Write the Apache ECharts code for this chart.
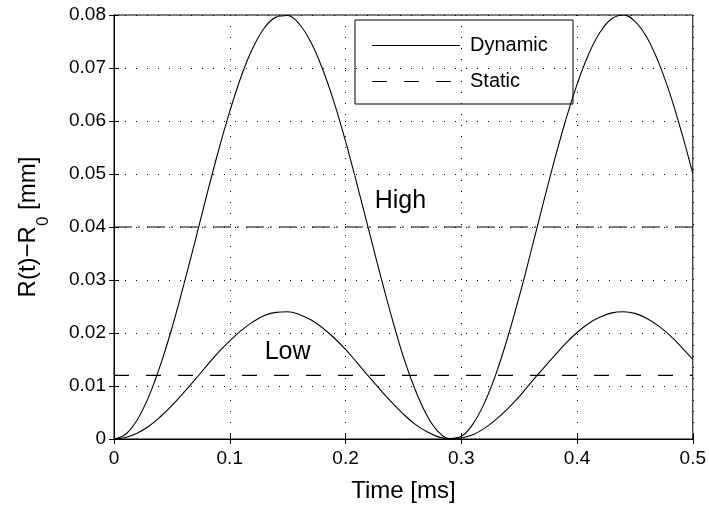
<!DOCTYPE html>
<html>
<head>
<meta charset="utf-8">
<script src="https://cdn.jsdelivr.net/npm/echarts@6/dist/echarts.min.js"></script>
<style>
  html, body { margin: 0; padding: 0; background: #fff; }
  #chart { width: 709px; height: 508px; }
</style>
</head>
<body>
<div id="chart"></div>
<script>
// time samples [ms]
const time = [0, 0.01, 0.02, 0.03, 0.04, 0.05, 0.06, 0.07, 0.08, 0.09,
  0.10, 0.11, 0.12, 0.13, 0.14, 0.15, 0.16, 0.17, 0.18, 0.19,
  0.20, 0.21, 0.22, 0.23, 0.24, 0.25, 0.26, 0.27, 0.28, 0.29,
  0.30, 0.31, 0.32, 0.33, 0.34, 0.35, 0.36, 0.37, 0.38, 0.39,
  0.40, 0.41, 0.42, 0.43, 0.44, 0.45, 0.46, 0.47, 0.48, 0.49, 0.50];

// dynamic response, high load [mm]
const dynHigh = [0, 0.0009, 0.0036, 0.0080, 0.0139, 0.0209, 0.0289, 0.0373, 0.0459, 0.0542,
  0.0618, 0.0685, 0.0738, 0.0776, 0.0796, 0.0799, 0.0783, 0.0749, 0.0699, 0.0636,
  0.0562, 0.0480, 0.0395, 0.0310, 0.0229, 0.0155, 0.0094, 0.0046, 0.0014, 0.0001,
  0.0005, 0.0028, 0.0068, 0.0123, 0.0191, 0.0268, 0.0352, 0.0438, 0.0522, 0.0600,
  0.0669, 0.0726, 0.0768, 0.0793, 0.0800, 0.0788, 0.0759, 0.0713, 0.0653, 0.0581, 0.0501];

// dynamic response, low load [mm]
const dynLow = [0, 0.0003, 0.0011, 0.0024, 0.0042, 0.0063, 0.0087, 0.0112, 0.0138, 0.0163,
  0.0185, 0.0205, 0.0221, 0.0233, 0.0239, 0.0240, 0.0235, 0.0225, 0.0210, 0.0191,
  0.0169, 0.0144, 0.0118, 0.0093, 0.0069, 0.0047, 0.0028, 0.0014, 0.0004, 0.0000,
  0.0002, 0.0008, 0.0020, 0.0037, 0.0057, 0.0080, 0.0106, 0.0131, 0.0156, 0.0180,
  0.0201, 0.0218, 0.0230, 0.0238, 0.0240, 0.0237, 0.0228, 0.0214, 0.0196, 0.0174, 0.0150];

// static deflections [mm]
const staticHigh = 0.04;
const staticLow = 0.012;

const xTickLabels = ['0', '0.1', '0.2', '0.3', '0.4', '0.5'];
const yTickLabels = ['0', '0.01', '0.02', '0.03', '0.04', '0.05', '0.06', '0.07', '0.08'];

// text annotations: [t, value, text]
const notes = [[0.2478, 0.0447, 'High'], [0.1504, 0.0163, 'Low']];

const legendNames = ['Dynamic', 'Static'];

const FONT = '"Liberation Sans", Arial, sans-serif';
const DASH = [15, 17];
const DASHDOT = [18, 6, 2, 7];

function pairs(ys) {
  return time.map((t, i) => [t, ys[i]]);
}

const myChart = echarts.init(document.getElementById('chart'), null, { renderer: 'canvas' });

const tickLbl = { color: '#000', fontFamily: FONT, fontSize: 19 };
const dotted = { show: true, lineStyle: { color: '#000', width: 1, type: [1, 10] } };
const blackTick = { inside: true, length: 5, lineStyle: { color: '#000' } };

// legend box (MATLAB style), drawn as graphic
const lg = { x: 355, y: 20, w: 218, h: 84 };
const legendGraphic = {
  type: 'group', z: 100,
  children: [
    { type: 'rect', shape: { x: lg.x, y: lg.y, width: lg.w, height: lg.h },
      style: { fill: '#fff', stroke: '#000', lineWidth: 1 } },
    { type: 'line', shape: { x1: 372, y1: 45.5, x2: 460, y2: 45.5 },
      style: { stroke: '#000', lineWidth: 1 } },
    { type: 'line', shape: { x1: 372, y1: 81.5, x2: 460, y2: 81.5 },
      style: { stroke: '#000', lineWidth: 1, lineDash: DASH } },
    { type: 'text', x: 470, y: 45, style: { text: legendNames[0], fill: '#000',
      font: '20px ' + FONT, verticalAlign: 'middle' } },
    { type: 'text', x: 470, y: 81, style: { text: legendNames[1], fill: '#000',
      font: '20px ' + FONT, verticalAlign: 'middle' } }
  ]
};

const option = {
  backgroundColor: '#fff',
  animation: false,
  textStyle: { fontFamily: FONT },
  grid: { left: 114, right: 15, top: 15, bottom: 68, show: true, borderColor: '#000', borderWidth: 1 },
  xAxis: [{
    type: 'value', min: 0, max: 0.5, interval: 0.1,
    name: 'Time [ms]', nameLocation: 'middle', nameGap: 40,
    nameTextStyle: { color: '#000', fontSize: 24, fontFamily: FONT },
    axisLine: { show: true, lineStyle: { color: '#000' } },
    axisTick: blackTick,
    axisLabel: Object.assign({ margin: 10, formatter: v => xTickLabels[Math.round(v * 10)] }, tickLbl),
    splitLine: dotted
  }, {
    type: 'value', position: 'top', min: 0, max: 0.5, interval: 0.1,
    axisLine: { show: true, lineStyle: { color: '#000' } },
    axisTick: blackTick,
    axisLabel: { show: false }, splitLine: { show: false }
  }],
  yAxis: [{
    type: 'value', min: 0, max: 0.08, interval: 0.01,
    name: 'R(t)−R{sub|0} [mm]', nameLocation: 'middle', nameGap: 74, nameRotate: 90,
    nameTextStyle: {
      color: '#000', fontSize: 24, fontFamily: FONT,
      rich: { sub: { fontSize: 17, fontFamily: FONT, color: '#000', verticalAlign: 'bottom', padding: [0, 0, -12, 0] } }
    },
    axisLine: { show: true, lineStyle: { color: '#000' } },
    axisTick: blackTick,
    axisLabel: Object.assign({ margin: 8, formatter: v => yTickLabels[Math.round(v * 100)] }, tickLbl),
    splitLine: dotted
  }, {
    type: 'value', position: 'right', min: 0, max: 0.08, interval: 0.01,
    axisLine: { show: true, lineStyle: { color: '#000' } },
    axisTick: blackTick,
    axisLabel: { show: false }, splitLine: { show: false }
  }],
  graphic: [legendGraphic],
  series: [
    {
      name: 'Dynamic', type: 'line', data: pairs(dynHigh), smooth: 0.4,
      showSymbol: false, lineStyle: { color: '#000', width: 1.1 }
    },
    {
      name: 'Dynamic', type: 'line', data: pairs(dynLow), smooth: 0.4,
      showSymbol: false, lineStyle: { color: '#000', width: 1.1 }
    },
    {
      name: 'Static', type: 'line', data: [[0, staticLow], [0.5, staticLow]],
      showSymbol: false, lineStyle: { color: '#000', width: 1.1, type: DASH }
    },
    {
      name: 'Static', type: 'line', data: [[0, staticHigh], [0.5, staticHigh]],
      showSymbol: false, lineStyle: { color: '#000', width: 1.1, type: DASHDOT }
    },
    {
      name: 'notes', type: 'scatter', symbolSize: 1, silent: true,
      itemStyle: { color: 'rgba(0,0,0,0)' },
      data: notes.map(n => ({ value: [n[0], n[1]], name: n[2] })),
      label: {
        show: true, position: [0, 0], align: 'center', verticalAlign: 'middle',
        formatter: p => p.name, opacity: 1,
        color: '#000', textBorderWidth: 0, fontSize: 25, fontFamily: FONT
      }
    }
  ]
};

myChart.setOption(option);
</script>
</body>
</html>
